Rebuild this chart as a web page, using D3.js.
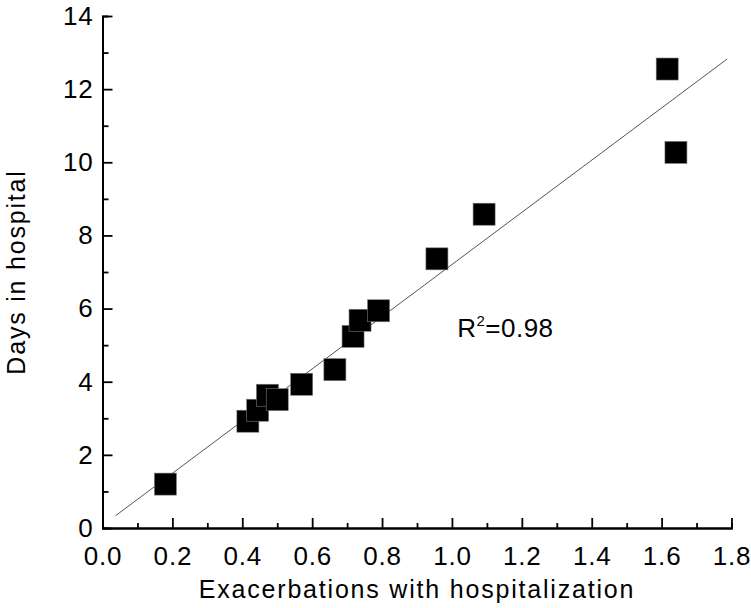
<!DOCTYPE html>
<html>
<head>
<meta charset="utf-8">
<script src="https://cdn.jsdelivr.net/npm/d3@7"></script>
<style>
    html, body { margin: 0; padding: 0; background: #fff; }
    text { font-family: "Liberation Sans", Arial, Helvetica, sans-serif; fill: #000; }
</style>
</head>
<body>
<div id="chart"></div>
<script>
// values
var exacerbations = [0.18, 0.416, 0.444, 0.472, 0.50, 0.570, 0.665, 0.717, 0.737, 0.790, 0.957, 1.092, 1.616, 1.641];
var daysInHospital = [1.2, 2.92, 3.22, 3.63, 3.51, 3.93, 4.33, 5.24, 5.68, 5.94, 7.36, 8.58, 12.55, 10.27];
var fitX = [0.038, 1.787];
var fitY = [0.34, 12.82];
var xTicks = [0, 0.2, 0.4, 0.6, 0.8, 1.0, 1.2, 1.4, 1.6, 1.8];
var xMinorTicks = [0.1, 0.3, 0.5, 0.7, 0.9, 1.1, 1.3, 1.5, 1.7];
var yTicks = [0, 2, 4, 6, 8, 10, 12, 14];
var yMinorTicks = [1, 3, 5, 7, 9, 11, 13];
var rSquared = "0.98";

(function () {
    'use strict';
    var svg, x, y, xAxis, yAxis,
        width = 751,
        height = 608,
        left = 102.5,
        right = 731.5,
        top = 16,
        bottom = 528,
        boxSize = 22,
        points = exacerbations.map(function (v, i) {
            return {x: v, y: daysInHospital[i]};
        }),
        fit = fitX.map(function (v, i) {
            return {x: v, y: fitY[i]};
        });

    x = d3.scaleLinear().domain([0, 1.8]).range([left, right]);
    y = d3.scaleLinear().domain([0, 14]).range([bottom, top]);

    svg = d3.select("#chart").append("svg")
        .attr("width", width)
        .attr("height", height);

    function styleAxis(g) {
        g.attr("font-family", null).attr("font-size", null);
        g.select(".domain").attr("stroke", "#000").attr("stroke-width", 2);
        g.selectAll(".tick line").attr("stroke", "#000").attr("stroke-width", 1.8);
        g.selectAll(".tick text")
            .style("font-size", "26px")
            .style("letter-spacing", "0.8px");
    }

    // minor ticks first, under the main axes
    svg.append("g")
        .attr("transform", "translate(0," + bottom + ")")
        .call(d3.axisBottom(x).tickValues(xMinorTicks).tickSize(-5).tickFormat(""))
        .call(styleAxis);

    svg.append("g")
        .attr("transform", "translate(" + left + ",0)")
        .call(d3.axisLeft(y).tickValues(yMinorTicks).tickSize(-6).tickFormat(""))
        .call(styleAxis);

    xAxis = svg.append("g")
        .attr("transform", "translate(0," + bottom + ")")
        .call(d3.axisBottom(x).tickValues(xTicks).tickSizeInner(-10).tickSizeOuter(0)
            .tickFormat(d3.format(".1f")))
        .call(styleAxis);

    yAxis = svg.append("g")
        .attr("transform", "translate(" + left + ",0)")
        .call(d3.axisLeft(y).tickValues(yTicks).tickSizeInner(-10).tickSizeOuter(0)
            .tickFormat(d3.format("d")))
        .call(styleAxis);

    xAxis.selectAll(".tick text").attr("dy", "0.72em").attr("y", 18.5);
    yAxis.selectAll(".tick text").attr("x", -9);

    // regression line
    svg.append("path")
        .datum(fit)
        .attr("fill", "none")
        .attr("stroke", "#555")
        .attr("stroke-width", 1)
        .attr("d", d3.line()
            .x(function (d) { return x(d.x); })
            .y(function (d) { return y(d.y); }));

    // points
    svg.selectAll("rect.pt")
        .data(points)
        .enter()
        .append("rect")
        .attr("class", "pt")
        .attr("x", function (d) { return x(d.x) - boxSize / 2; })
        .attr("y", function (d) { return y(d.y) - boxSize / 2; })
        .attr("width", boxSize)
        .attr("height", boxSize)
        .attr("fill", "#000")
        .attr("stroke", "#777")
        .attr("stroke-width", 0.6);

    // R squared note
    svg.append("text")
        .attr("x", x(1.015))
        .attr("y", y(5.21))
        .style("font-size", "26px")
        .style("letter-spacing", "0.5px")
        .call(function (t) {
            t.append("tspan").text("R");
            t.append("tspan").attr("dy", -11).style("font-size", "15px").text("2");
            t.append("tspan").attr("dy", 11).text("=" + rSquared);
        });

    // axis titles
    svg.append("text")
        .attr("x", (left + right) / 2)
        .attr("y", 598)
        .attr("text-anchor", "middle")
        .style("font-size", "25px")
        .style("letter-spacing", "1.8px")
        .text("Exacerbations with hospitalization");

    svg.append("text")
        .attr("transform", "translate(25," + (top + bottom) / 2 + ") rotate(-90)")
        .attr("text-anchor", "middle")
        .style("font-size", "25px")
        .style("letter-spacing", "1.8px")
        .text("Days in hospital");
}());
</script>
</body>
</html>
